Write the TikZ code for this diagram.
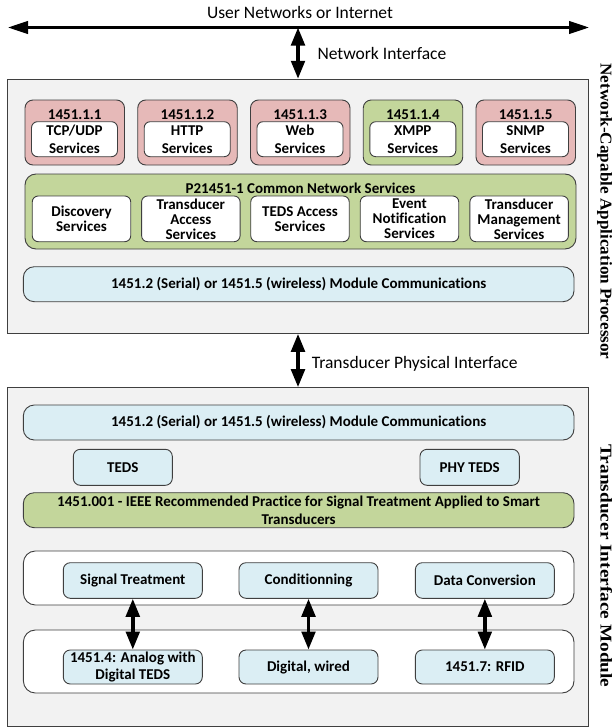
\documentclass[tikz,border=0pt]{standalone}
\usepackage{fontspec}
\setmainfont{Carlito}[Ligatures=NoCommon]
\newfontfamily\sidefont{Liberation Serif}
\usetikzlibrary{arrows.meta}
\definecolor{outerfill}{HTML}{F2F2F2}
\definecolor{redfill}{HTML}{E6B9B8}
\definecolor{greenfill}{HTML}{C3D69B}
\definecolor{bluefill}{HTML}{DBEEF4}
\definecolor{edge}{HTML}{3F3F3F}
\begin{document}
\begin{tikzpicture}[x=1pt,y=-1pt,
  outerbox/.style={draw=edge, fill=outerfill, line width=1pt, inner sep=0pt},
  redbox/.style={draw=edge, fill=redfill, rounded corners=8pt, line width=0.9pt, inner sep=0pt, minimum width=99.5pt, minimum height=65pt},
  grnbox/.style={draw=edge, fill=greenfill, rounded corners=11pt, line width=0.9pt, inner sep=0pt, align=center, font=\bfseries\fontsize{15}{17.3}\selectfont},
  bluebar/.style={draw=edge, fill=bluefill, rounded corners=11pt, line width=0.9pt, inner sep=0pt, align=center, minimum width=550.7pt, minimum height=35pt, font=\bfseries\fontsize{15}{17}\selectfont},
  bluebox/.style={draw=edge, fill=bluefill, rounded corners=7pt, line width=0.9pt, inner sep=0pt, align=center, font=\bfseries\fontsize{15}{17}\selectfont},
  wbox/.style={draw=edge, fill=white, rounded corners=6pt, line width=0.9pt, inner sep=0pt, align=center, font=\bfseries\fontsize{15}{15}\selectfont},
  rwbox/.style={wbox, minimum width=86pt, minimum height=35pt, font=\bfseries\fontsize{15}{18}\selectfont},
  cwbox/.style={wbox, minimum width=98.5pt, minimum height=45.7pt},
  modbox/.style={draw=edge, fill=white, rounded corners=12pt, line width=0.9pt, inner sep=0pt, minimum width=550.6pt},
  titletext/.style={font=\bfseries\fontsize{15}{17}\selectfont, anchor=base, inner sep=0pt},
  plain/.style={font=\fontsize{17.5}{20}\selectfont, inner sep=0pt},
  sidelabel/.style={font=\sidefont\bfseries\fontsize{16.5}{19}\selectfont, rotate=-90, anchor=base, inner sep=0pt},
  hdbl/.style={line width=2.6pt, {Triangle[length=20pt,width=12.5pt]}-{Triangle[length=20pt,width=12.5pt]}},
  vdbl/.style={line width=3.6pt, {Triangle[length=18pt,width=13.5pt]}-{Triangle[length=18pt,width=13.5pt]}}
]
\useasboundingbox (0,0) rectangle (612,728);
\fill[white] (0,0) rectangle (612,728);

% top network line
\coordinate (netL) at (8,27.5);
\coordinate (netR) at (589,27.5);
\coordinate (netM) at (298,27.5);
\draw[hdbl] (netL) -- (netR);
\node[plain, anchor=base] (usernet) at (300,19) {User Networks or Internet};

% NCAP
\node[outerbox, minimum width=581.4pt, minimum height=254pt] (ncap) at (298,206.3) {};
\draw[vdbl] (netM) -- (ncap.north);
\node[plain, anchor=base west] (netif) at (317.3,59.3) {Network Interface};

% red / green protocol boxes
\node[redbox] (r1) at (74.75,132.5) {};
\node[redbox] (r2) at (187.5,132.5) {};
\node[redbox] (r3) at (300.25,132.5) {};
\node[redbox, fill=greenfill] (r4) at (413,132.5) {};
\node[redbox] (r5) at (525.75,132.5) {};
\node[titletext] (t1) at (74.75,119) {1451.1.1};
\node[titletext] (t2) at (187.5,119) {1451.1.2};
\node[titletext] (t3) at (300.25,119) {1451.1.3};
\node[titletext] (t4) at (413,119) {1451.1.4};
\node[titletext] (t5) at (525.75,119) {1451.1.5};
\node[rwbox] (w1) at (74.5,139.2) {TCP/UDP\\Services};
\node[rwbox] (w2) at (187.2,139.2) {HTTP\\Services};
\node[rwbox] (w3) at (300,139.2) {Web\\Services};
\node[rwbox] (w4) at (412.8,139.2) {XMPP\\Services};
\node[rwbox] (w5) at (525.5,139.2) {SNMP\\Services};

% common network services
\node[grnbox, minimum width=551pt, minimum height=75pt] (cns) at (300.5,211.5) {};
\node[titletext] (cnstitle) at (300.5,193) {P21451-1 Common Network Services};
\node[cwbox] (c1) at (81.5,218.85) {Discovery\\Services};
\node[cwbox] (c2) at (190.85,218.85) {Transducer\\Access\\Services};
\node[cwbox] (c3) at (300,218.85) {TEDS Access\\Services};
\node[cwbox] (c4) at (409.5,218.85) {Event\\Notification\\Services};
\node[cwbox] (c5) at (519.15,218.85) {Transducer\\Management\\Services};

\node[bluebar] (mc1) at (298.65,284.2) {1451.2 (Serial) or 1451.5 (wireless) Module Communications};

\node[sidelabel] (ncaplabel) at (600.5,211.5) {\scalebox{1.04}[1]{Network-Capable Application Processor}};

% TIM
\node[outerbox, minimum width=581.4pt, minimum height=338.3pt] (tim) at (298,556.85) {};
\draw[vdbl] (ncap.south) -- (tim.north);
\node[plain, anchor=base west] (tpi) at (311.7,368.2) {Transducer Physical Interface};

\node[bluebar] (mc2) at (298.65,422.5) {1451.2 (Serial) or 1451.5 (wireless) Module Communications};
\node[bluebox, minimum width=99pt, minimum height=36pt] (teds) at (122.8,467.3) {TEDS};
\node[bluebox, minimum width=99.3pt, minimum height=36pt] (phyteds) at (469.65,467.3) {PHY TEDS};
\node[grnbox, rounded corners=11pt, minimum width=550.7pt, minimum height=35pt] (sigtreat) at (298.65,510.2) {1451.001 - IEEE Recommended Practice for Signal Treatment Applied to Smart\\Transducers};

\node[modbox, minimum height=54pt] (mod1) at (298.7,578) {};
\node[modbox, minimum height=63pt] (mod2) at (298.7,661.5) {};
\node[bluebox, minimum width=139pt, minimum height=35.6pt] (st) at (132.8,580.5) {Signal Treatment};
\node[bluebox, minimum width=139pt, minimum height=35.6pt] (cond) at (308.5,580.5) {Conditionning};
\node[bluebox, minimum width=139pt, minimum height=35.6pt] (dc) at (484.85,580.5) {Data Conversion};
\node[bluebox, minimum width=139pt, minimum height=34pt] (a14) at (132.8,667) {1451.4: Analog with\\Digital TEDS};
\node[bluebox, minimum width=139pt, minimum height=34pt] (dw) at (308.5,667) {Digital, wired};
\node[bluebox, minimum width=139pt, minimum height=34pt] (rfid) at (484.85,667) {1451.7: RFID};
\draw[vdbl] (st.south) -- (a14.north);
\draw[vdbl] (cond.south) -- (dw.north);
\draw[vdbl] (dc.south) -- (rfid.north);

\node[sidelabel] (timlabel) at (600.5,566) {\scalebox{1.17}[1]{Transducer Interface Module}};
\end{tikzpicture}
\end{document}
